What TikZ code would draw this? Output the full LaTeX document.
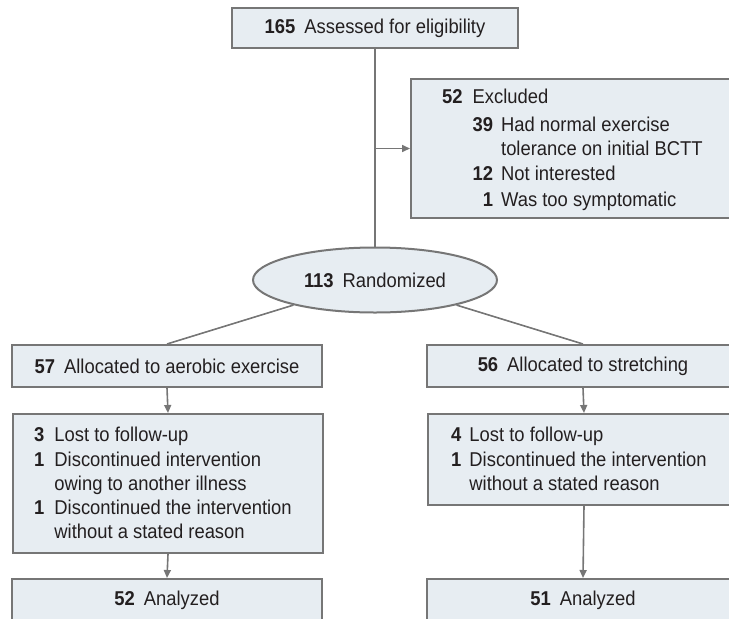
\documentclass[tikz,border=0pt]{standalone}
\usepackage{fontspec}
\setmainfont{Liberation Sans}[FakeStretch=0.92]
\usetikzlibrary{arrows.meta,shapes.geometric,calc}
\definecolor{boxfill}{RGB}{231,237,242}
\definecolor{boxline}{RGB}{118,118,118}
\definecolor{txt}{RGB}{35,31,32}
\newcommand{\nb}[1]{\textbf{#1}}
\begin{document}
\begin{tikzpicture}[x=1pt,y=-1pt,
  box/.style={draw=boxline, fill=boxfill, line width=2pt, inner sep=0pt, text=txt},
  txtnode/.style={inner sep=0pt, text=txt, anchor=base west},
  conn/.style={draw=boxline, line width=1.6pt},
  arr/.style={conn, -{Triangle[length=8pt,width=7pt]}},
  font=\fontsize{20}{23.5}\selectfont]
\useasboundingbox (0,0) rectangle (729,619);
\clip (0,0) rectangle (729,619);

% top
\node[box, minimum width=286pt, minimum height=40pt] (elig) at (375,28)
  {\nb{165}\hspace{9pt}Assessed for eligibility};

% excluded
\node[box, minimum width=350pt, minimum height=139pt, anchor=north west] (excl) at (410,78) {};
\node[txtnode] (excltxt) at (442,103) {\begin{tabular}[t]{@{}r@{\hspace{10pt}}r@{\hspace{8pt}}l@{}}
\nb{52} & \multicolumn{2}{@{}l@{}}{Excluded}\\[5pt]
 & \nb{39} & Had normal exercise\\
 & & tolerance on initial BCTT\\[2pt]
 & \nb{12} & Not interested\\[2pt]
 & \nb{1} & Was too symptomatic
\end{tabular}};

% randomized
\node[box, ellipse, minimum width=244pt, minimum height=65pt] (rand) at (375,280)
  {\nb{113}\hspace{9pt}Randomized};

% allocation
\node[box, minimum width=310pt, minimum height=42pt] (alA) at (167,366)
  {\nb{57}\hspace{9pt}Allocated to aerobic exercise};
\node[box, minimum width=312pt, minimum height=42pt] (alB) at (583,366)
  {\nb{56}\hspace{9pt}Allocated to stretching};

% follow-up
\node[box, minimum width=310pt, minimum height=139pt, anchor=north west] (lostA) at (12,413) {};
\node[txtnode] (lostAtxt) at (34,441.5) {\begin{tabular}[t]{@{}r@{\hspace{10pt}}l@{}}
\nb{3} & Lost to follow-up\\[1.5pt]
\nb{1} & Discontinued intervention\\
 & owing to another illness\\[1pt]
\nb{1} & Discontinued the intervention\\
 & without a stated reason
\end{tabular}};

\node[box, minimum width=312pt, minimum height=91pt, anchor=north west] (lostB) at (427,413) {};
\node[txtnode] (lostBtxt) at (451,441) {\begin{tabular}[t]{@{}r@{\hspace{8pt}}l@{}}
\nb{4} & Lost to follow-up\\[2pt]
\nb{1} & Discontinued the intervention\\
 & without a stated reason
\end{tabular}};

% analyzed
\node[box, minimum width=310pt, minimum height=42pt] (anA) at (167,600)
  {\nb{52}\hspace{9pt}Analyzed};
\node[box, minimum width=312pt, minimum height=42pt] (anB) at (583,600)
  {\nb{51}\hspace{9pt}Analyzed};

% connectors
\draw[conn] (elig.south) -- (rand.north);
\coordinate (j) at (elig.south |- excl.west);
\draw[arr] (j) -- (excl.west);
\draw[conn] (rand) -- (alA.north);
\draw[conn] (rand) -- (alB.north);
\draw[arr] (alA.south) -- (lostA.north);
\draw[arr] (alB.south) -- (lostB.north);
\draw[arr] (lostA.south) -- (anA.north);
\draw[arr] (lostB.south) -- (anB.north);
\end{tikzpicture}
\end{document}
